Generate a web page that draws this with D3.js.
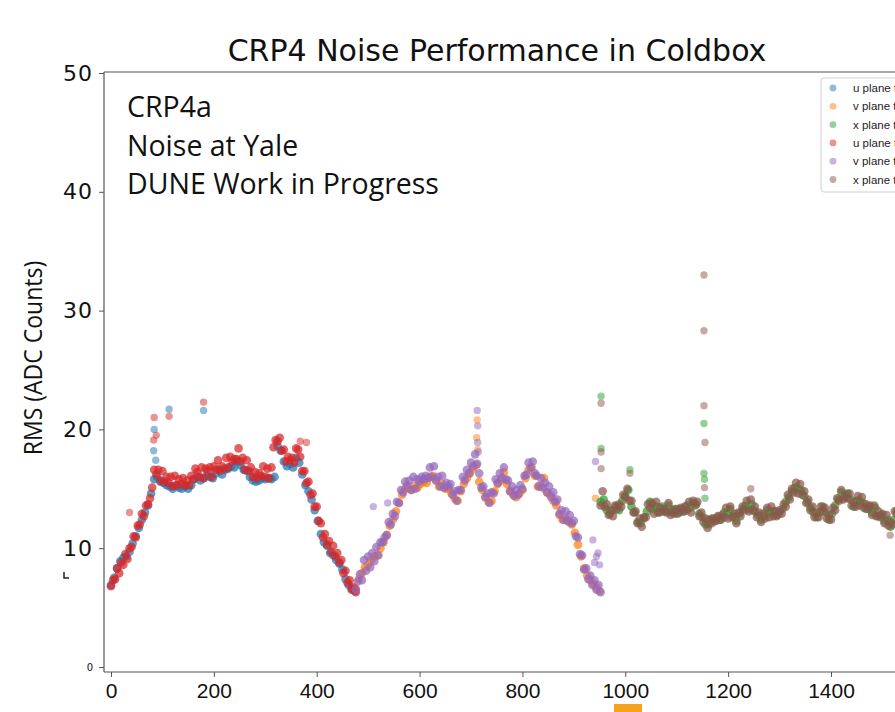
<!DOCTYPE html>
<html>
<head>
<meta charset="utf-8">
<script src="https://cdn.jsdelivr.net/npm/d3@7"></script>
<style>
  body { margin: 0; background: #fff; }
  svg { display: block; }
</style>
</head>
<body>
<div id="chart"></div>
<script>
// kanal başlangıçları ve örnekleme adımı
const uStart = 0, vStart = 476, xStart = 952;
const topStep = 4, underStep = 6;

// u plane (ikinci set, kırmızı) ve alttaki mavi set
const uTop = [6.8, 7.3, 7.4, 8.3, 7.9, 8.8, 8.6, 9.5, 9.1, 10.0, 10.1, 11.0, 10.9, 11.9, 12.0, 12.9, 12.7, 13.6, 13.7, 14.2,
  15.1, 16.6, 16.2, 16.6, 15.7, 16.5, 15.6, 16.0, 15.5, 16.0, 15.2, 16.1, 15.3, 15.8, 15.4, 15.9, 15.3, 15.7, 15.3, 16.1,
  15.8, 16.7, 16.4, 16.0, 16.8, 15.9, 16.7, 16.5, 16.8, 16.0, 16.9, 16.6, 17.4, 16.5, 16.9, 16.7, 17.6, 16.8, 17.7, 17.3,
  17.5, 17.5, 18.4, 17.3, 17.6, 16.6, 17.4, 16.5, 16.8, 16.0, 16.4, 15.9, 16.3, 16.1, 16.9, 16.0, 16.7, 15.9, 16.8, 18.5,
  19.1, 19.0, 19.3, 18.2, 18.3, 17.3, 17.7, 17.4, 17.6, 17.2, 18.4, 18.3, 17.7, 16.5, 16.5, 15.5, 15.6, 14.5, 14.6, 13.5,
  13.5, 12.3, 12.1, 10.9, 11.2, 10.3, 10.6, 9.7, 10.2, 9.3, 9.6, 8.8, 9.0, 7.9, 8.1, 7.1, 7.3, 6.5, 6.7, 6.3];
const uUnder = [6.9, 7.5, 8.3, 8.9, 9.2, 9.3, 9.7, 10.4, 11.0, 11.7, 12.4, 13.0, 13.6, 14.6, 15.8, 16.0, 15.6, 15.5, 15.3, 15.2,
  15.0, 15.3, 15.1, 15.0, 15.2, 15.0, 15.3, 15.8, 16.0, 15.7, 15.9, 16.1, 16.0, 15.9, 16.3, 16.6, 16.2, 16.6, 16.7, 16.9,
  16.8, 17.3, 17.0, 16.6, 16.5, 16.0, 15.7, 15.6, 15.7, 15.9, 15.8, 15.9, 15.8, 16.0, 18.6, 18.2, 17.3, 16.9, 17.1, 16.8,
  17.6, 17.2, 16.2, 15.3, 14.8, 14.1, 13.2, 12.3, 11.2, 10.5, 10.2, 9.6, 9.4, 9.0, 8.7, 8.2, 7.4, 6.9, 6.6, 6.4];
const uTopExtra = [[36, 13.0], [83, 19.1], [84, 21.0], [88, 19.5], [113, 21.1], [180, 22.3], [368, 19.0], [380, 18.9]];
const uUnderExtra = [[83, 18.2], [84, 20.0], [87, 17.4], [113, 21.7], [180, 21.6]];

// v plane (mor) ve alttaki turuncu set
const vTop = [6.5, 7.2, 7.8, 7.3, 9.0, 8.1, 9.3, 8.4, 9.6, 8.9, 10.1, 9.4, 10.5, 10.5, 10.9, 11.1, 12.2, 12.0, 12.9, 12.7,
  13.9, 13.8, 14.9, 14.7, 15.6, 15.3, 15.7, 14.9, 16.0, 15.0, 15.8, 15.6, 16.0, 15.8, 16.1, 15.9, 16.8, 16.0, 16.9, 15.7,
  16.0, 15.2, 16.1, 15.1, 15.5, 15.2, 15.4, 14.5, 14.8, 14.0, 14.9, 14.9, 16.0, 15.7, 16.6, 16.3, 17.2, 16.9, 17.9, 17.1,
  16.3, 15.1, 15.2, 14.3, 14.6, 13.8, 14.7, 14.6, 15.8, 15.5, 16.3, 15.9, 16.8, 15.8, 15.7, 14.8, 15.2, 14.4, 14.9, 14.5,
  15.3, 15.0, 16.1, 16.2, 17.2, 16.8, 17.3, 16.3, 16.1, 15.2, 15.9, 15.1, 15.5, 14.7, 15.2, 14.3, 14.7, 13.9, 14.1, 12.9,
  13.2, 12.4, 13.1, 12.3, 12.8, 12.1, 12.3, 11.0, 10.9, 9.5, 9.4, 8.2, 8.3, 7.4, 7.7, 6.9, 7.3, 6.5, 6.9, 6.3];
const vUnder = [6.6, 7.4, 7.9, 8.4, 8.6, 9.0, 9.3, 9.4, 10.0, 10.5, 11.1, 11.9, 12.4, 13.1, 13.8, 14.5, 15.0, 15.1, 14.9, 15.2,
  15.1, 15.4, 15.6, 15.5, 16.0, 16.1, 15.7, 15.2, 15.4, 15.0, 15.0, 14.6, 14.2, 14.0, 14.8, 15.4, 15.9, 16.3, 16.7, 17.0,
  15.6, 14.9, 14.3, 13.9, 14.0, 14.8, 15.4, 15.7, 16.4, 15.4, 14.8, 14.5, 14.3, 14.6, 14.9, 15.9, 16.6, 16.8, 16.1, 15.2,
  15.2, 15.9, 14.7, 14.5, 14.0, 13.6, 12.8, 12.4, 12.5, 12.2, 12.0, 11.3, 10.3, 9.3, 8.3, 7.7, 7.3, 7.0, 6.7, 6.4];
const vTopExtra = [[510, 13.5], [538, 13.8], [712, 21.6], [713, 20.3], [713, 18.9], [714, 18.1],
  [937, 10.7], [940, 8.8], [942, 17.3], [944, 9.3], [947, 9.6], [950, 8.6]];
const vUnderExtra = [[711, 19.3], [712, 20.8], [713, 18.3], [942, 14.2]];

// x plane (kahverengi) ve alttaki yeşil set
const xTop = [13.6, 14.8, 13.5, 13.7, 12.8, 13.2, 12.7, 13.6, 13.3, 13.7, 13.5, 14.5, 14.3, 15.0, 14.0, 14.0, 13.0, 13.1, 12.1, 12.5,
  11.8, 12.6, 12.6, 13.7, 13.4, 13.8, 12.9, 13.9, 13.0, 13.4, 13.1, 13.3, 13.0, 13.8, 12.8, 13.2, 12.9, 13.3, 13.0, 13.4,
  13.1, 13.5, 13.2, 13.9, 13.0, 14.0, 13.6, 13.9, 12.7, 13.0, 12.2, 12.5, 11.7, 12.4, 12.1, 12.5, 12.3, 12.7, 12.4, 12.8,
  12.6, 13.4, 12.5, 13.5, 12.6, 12.9, 12.1, 13.0, 12.7, 13.5, 13.2, 14.0, 13.1, 14.1, 13.2, 13.5, 12.6, 13.0, 12.2, 12.9,
  12.5, 13.4, 12.6, 13.5, 12.7, 13.1, 12.8, 13.2, 12.9, 13.7, 13.5, 14.5, 14.1, 15.0, 14.7, 15.5, 14.6, 15.4, 14.5, 14.8,
  13.8, 14.1, 13.2, 13.5, 12.6, 13.0, 12.6, 13.5, 13.1, 13.4, 12.5, 12.8, 12.4, 13.4, 13.2, 14.2, 14.0, 14.9, 14.1, 14.5,
  14.2, 14.6, 13.6, 13.9, 13.5, 14.4, 13.6, 14.3, 13.4, 13.7, 13.3, 13.6, 12.8, 13.6, 12.7, 13.1, 12.6, 12.9, 12.1, 12.8,
  11.9, 12.2, 12.0, 13.1, 12.9, 13.4];
const xUnder = [13.9, 14.1, 13.2, 12.9, 13.2, 13.5, 13.2, 14.0, 14.4, 14.9, 13.5, 13.0, 12.2, 12.1, 12.5, 13.1, 13.9, 13.3, 13.5, 13.0,
  13.5, 13.1, 13.6, 13.0, 13.3, 12.9, 13.3, 13.1, 13.6, 13.4, 13.8, 13.7, 12.9, 12.6, 12.0, 12.0, 12.5, 12.3, 12.6, 12.4,
  13.0, 12.9, 13.3, 12.7, 12.3, 12.9, 13.3, 13.6, 13.3, 13.7, 13.1, 12.8, 12.4, 12.7, 13.2, 13.0, 13.1, 12.7, 13.0, 13.3,
  13.9, 14.3, 14.8, 15.1, 15.0, 14.9, 14.4, 13.9, 13.4, 13.0, 12.6, 13.0, 13.5, 13.0, 12.4, 12.9, 13.6, 14.1, 14.7, 14.3,
  14.6, 14.1, 13.5, 14.0, 14.0, 13.8, 13.3, 13.5, 13.0, 13.4, 12.7, 12.8, 12.3, 12.4, 11.8, 12.4, 13.1];
const xTopExtra = [[953, 22.2], [953, 18.1], [953, 16.7], [1009, 16.3], [1153, 33.0], [1153, 28.3], [1153, 22.0],
  [1155, 18.9], [1154, 15.1], [1244, 15.0], [1515, 11.1]];
const xUnderExtra = [[953, 22.8], [953, 18.4], [1009, 16.6], [1153, 20.5], [1153, 16.3], [1154, 15.8], [1155, 14.2]];

// eksen ve yazılar
const xTicks = [0, 200, 400, 600, 800, 1000, 1200, 1400];
const yTicks = [0, 10, 20, 30, 40, 50];
const legendLabels = ["u plane tpc0", "v plane tpc0", "x plane tpc0", "u plane tpc1", "v plane tpc1", "x plane tpc1"];
const notes = ["CRP4a", "Noise at Yale", "DUNE Work in Progress"];
const colors = ["#1f77b4", "#ff7f0e", "#2ca02c", "#d62728", "#9467bd", "#8c564b"];

function drawChart() {
    const width = 895, height = 712;
    const left = 104, top = 72, bottom = 672;

    const svg = d3.select('#chart').append('svg')
        .attr('width', width)
        .attr('height', height);

    const x = d3.scaleLinear().domain([0, 1400]).range([111, 831]);
    const y = d3.scaleLinear().domain([0, 50]).range([667, 73]);

    // seriler: çizim sırası matplotlib ile aynı; yoğun bant ve tek tük noktalar
    const toPts = (vals, start, step) => vals.map((v, i) => ({ ch: start + i * step, v, dense: true }));
    const fromPairs = arr => arr.map(([ch, v]) => ({ ch, v, dense: false }));
    const series = [
        toPts(uUnder, uStart, underStep).concat(fromPairs(uUnderExtra)),
        toPts(vUnder, vStart, underStep).concat(fromPairs(vUnderExtra)),
        toPts(xUnder, xStart, underStep).concat(fromPairs(xUnderExtra)),
        toPts(uTop, uStart, topStep).concat(fromPairs(uTopExtra)),
        toPts(vTop, vStart, topStep).concat(fromPairs(vTopExtra)),
        toPts(xTop, xStart, topStep).concat(fromPairs(xTopExtra))
    ];

    const plot = svg.append('g');
    series.forEach((pts, k) => {
        plot.append('g')
            .selectAll('circle')
            .data(pts)
            .join('circle')
            .attr('cx', d => x(d.ch))
            .attr('cy', d => y(d.v))
            .attr('r', d => d.dense ? 4.3 : 3.7)
            .attr('fill', colors[k])
            .attr('fill-opacity', d => d.dense ? 0.72 : 0.5);
    });

    // çerçeve
    svg.append('line').attr('x1', left).attr('x2', width).attr('y1', top).attr('y2', top)
        .attr('stroke', '#555').attr('stroke-width', 1.2);

    const yAxis = svg.append('g')
        .attr('transform', `translate(${left},0)`)
        .call(d3.axisLeft(y).tickValues(yTicks).tickSize(5).tickPadding(6));
    yAxis.select('.domain').attr('d', `M0,${top}V${bottom}`).attr('stroke', '#555').attr('stroke-width', 1.2);
    yAxis.selectAll('.tick line').attr('stroke', '#555');
    yAxis.selectAll('.tick text')
        .style('font-family', 'DejaVu Sans')
        .style('font-size', d => d === 0 ? '10px' : '22px')
        .style('letter-spacing', d => d === 0 ? '0px' : '1px')
        .attr('fill', '#111');

    const xAxis = svg.append('g')
        .attr('transform', `translate(0,${bottom})`)
        .call(d3.axisBottom(x).tickValues(xTicks).tickFormat(d3.format('d')).tickSize(5).tickPadding(6));
    xAxis.select('.domain').attr('d', `M${left},0H${width}`).attr('stroke', '#555').attr('stroke-width', 1.2);
    xAxis.selectAll('.tick line').attr('stroke', '#555');
    xAxis.selectAll('.tick text')
        .style('font-family', '"Liberation Sans", Arial, sans-serif')
        .style('font-size', '21px')
        .attr('fill', '#111');

    // başlık ve eksen adı
    svg.append('text')
        .attr('x', 497).attr('y', 61)
        .attr('text-anchor', 'middle')
        .style('font-family', 'DejaVu Sans')
        .style('font-size', '30px')
        .attr('fill', '#111')
        .text('CRP4 Noise Performance in Coldbox');

    svg.append('text')
        .attr('transform', 'translate(42,358) rotate(-90) scale(0.92,1)')
        .attr('text-anchor', 'middle')
        .style('font-family', '"Open Sans"')
        .style('font-size', '25px')
        .attr('fill', '#111')
        .text('RMS (ADC Counts)');

    // notlar
    svg.append('g').selectAll('text')
        .data(notes)
        .join('text')
        .attr('x', 127)
        .attr('y', (d, i) => 117 + i * 38.5)
        .style('font-family', '"Open Sans"')
        .style('font-size', '28.5px')
        .attr('fill', '#111')
        .text(d => d);

    // lejant (sağ kenarda kesik)
    const lg = svg.append('g').attr('transform', 'translate(821,78)');
    lg.append('rect')
        .attr('width', 100).attr('height', 114).attr('rx', 3)
        .attr('fill', '#fff').attr('stroke', '#d0d0d0');
    const item = lg.selectAll('g.item')
        .data(legendLabels)
        .join('g')
        .attr('class', 'item')
        .attr('transform', (d, i) => `translate(0,${10 + i * 18.3})`);
    item.append('circle')
        .attr('cx', 12).attr('r', 3.4)
        .attr('fill', (d, i) => colors[i]).attr('fill-opacity', 0.5);
    item.append('text')
        .attr('x', 32).attr('dy', '0.35em')
        .style('font-family', '"Liberation Sans", Arial, sans-serif')
        .style('font-size', '11.5px')
        .attr('fill', '#222')
        .text(d => d);

    // görüntüdeki küçük işaretler
    svg.append('path').attr('d', 'M64,572V578H69').attr('fill', 'none').attr('stroke', '#222').attr('stroke-width', 1.5);
    svg.append('rect').attr('x', 614).attr('y', 704).attr('width', 28).attr('height', 8).attr('fill', '#f7a21b');
}

document.addEventListener('DOMContentLoaded', drawChart);
</script>
</body>
</html>
